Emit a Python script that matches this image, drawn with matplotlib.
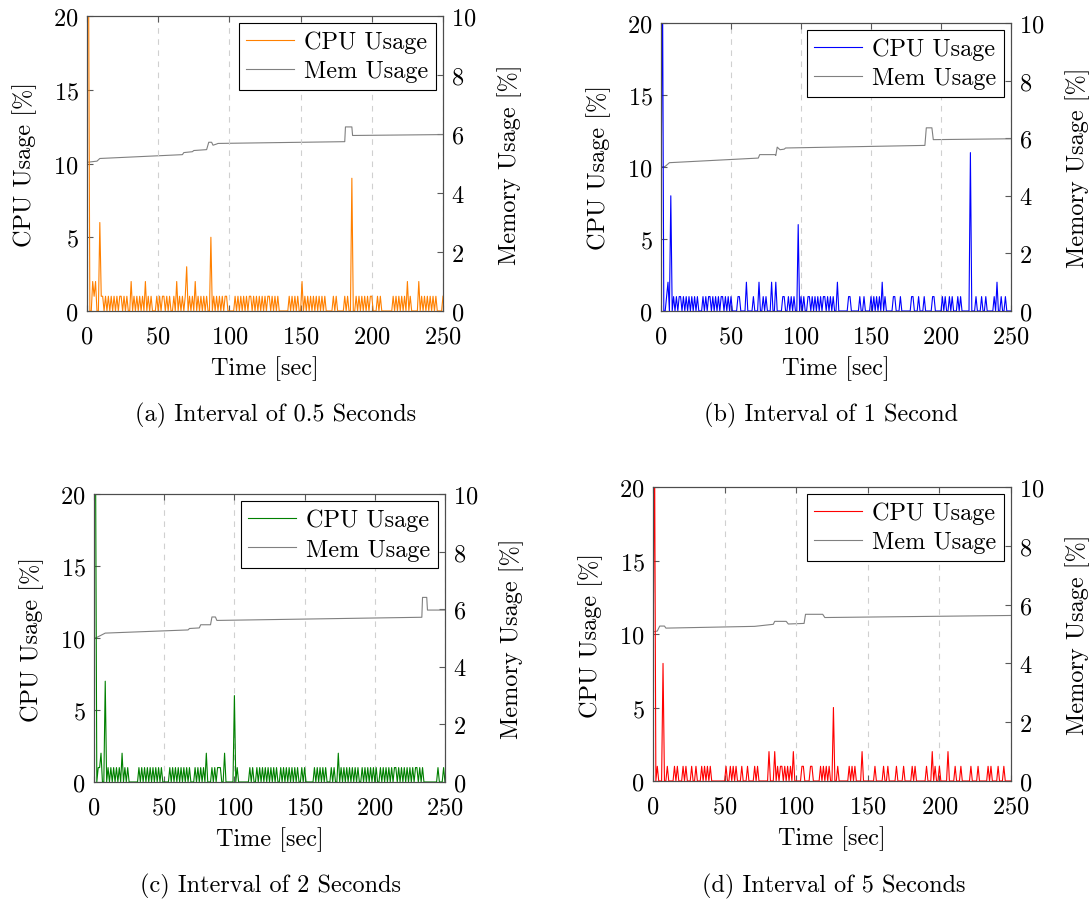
import numpy as np
import matplotlib.pyplot as plt

plt.rcParams['font.family'] = 'cmr10'
plt.rcParams['mathtext.fontset'] = 'cm'
plt.rcParams['axes.formatter.use_mathtext'] = True

# CPU usage [%], one sample per second (t = 0..250)
# written as base-36 digits: 0-9 as is, b = 11, p = 25 (off the top of the axis)
cpu_a_str = ("pp00212006 1101010101 0101101010 0201010101 0201010001 "
             "0101101010 0102010101 3010102010 1010100501 0101010110 "
             "0000101010 1010110101 0101010110 1010100000 0010101010 "
             "0201010101 0101010100 0001010000 0101009001 0101010101 "
             "1000101000 0000010101 0101020100 0002010101 0101010000 1")
cpu_b_str = ("6p00120801 0101101010 1010101000 1010110101 0101101010 "
             "1000011000 0200001000 2001010002 0020000110 0101010060 "
             "1010011010 1010101101 0101002000 0000110000 0010010000 "
             "1010101020 1000001100 0100000001 1000100010 0000110000 "
             "0101001010 0010100000 0b00010001 0010000010 2001001000 0")
cpu_c_str = ("pp01120070 1010101010 2010100000 0010101010 1010101010 "
             "0000101010 1010101010 0010101010 2000101011 1002000000 "
             "6010000000 0101001010 1010101010 1001010101 0101010010 "
             "1000000101 0101010001 0100201010 1010101010 0101010101 "
             "0100101010 1010110101 0101010101 1010100000 0000010001 0")
cpu_d_str = ("6p01000800 1000010100 0101000100 1000101010 1000000000 "
             "0100101010 0010001000 0101000000 0200020101 1010101020 "
             "0000110000 1100000101 0101005001 0000000101 0100002000 "
             "0000010000 0100100000 1000010000 0101000000 0100020100 "
             "1000002000 0100010000 0010000100 0000101000 0100010000 0")

cpu_a = [int(c, 36) for c in cpu_a_str.replace(' ', '')]
cpu_b = [int(c, 36) for c in cpu_b_str.replace(' ', '')]
cpu_c = [int(c, 36) for c in cpu_c_str.replace(' ', '')]
cpu_d = [int(c, 36) for c in cpu_d_str.replace(' ', '')]

# Memory usage [%], breakpoints of the step-like trace
mem_a_t = [0, 7, 9, 67, 68, 74, 75, 84, 85.5, 87.5, 88.5, 91, 92, 181, 181.5, 186, 186.5, 250]
mem_a_v = [5.04, 5.08, 5.17, 5.30, 5.37, 5.40, 5.44, 5.47, 5.72, 5.72, 5.62, 5.66, 5.68, 5.74, 6.24, 6.24, 5.95, 5.98]
mem_b_t = [0, 3, 6, 69.5, 70.5, 81.5, 82, 83, 85, 88, 89, 188.5, 189.5, 193.5, 194.5, 250]
mem_b_v = [5.0, 5.02, 5.15, 5.31, 5.43, 5.43, 5.40, 5.69, 5.60, 5.62, 5.66, 5.75, 6.36, 6.36, 5.95, 5.98]
mem_c_t = [0, 2, 8, 67, 68, 75, 76, 83, 84, 86.5, 87.5, 233.5, 234, 237, 237.5, 250]
mem_c_v = [4.99, 5.02, 5.17, 5.28, 5.33, 5.35, 5.46, 5.46, 5.73, 5.73, 5.61, 5.72, 6.41, 6.41, 5.97, 5.97]
mem_d_t = [0, 3, 4.7, 8, 9, 71, 84, 85, 93, 94.5, 105.5, 106.5, 118.5, 120, 250]
mem_d_v = [5.07, 5.10, 5.27, 5.27, 5.20, 5.26, 5.33, 5.43, 5.43, 5.34, 5.36, 5.67, 5.67, 5.56, 5.63]

captions = ['(a) Interval of 0.5 Seconds', '(b) Interval of 1 Second',
            '(c) Interval of 2 Seconds', '(d) Interval of 5 Seconds']
colors = ['#ff8000', '#0000ff', '#008000', '#ff0000']
cpus = [cpu_a, cpu_b, cpu_c, cpu_d]
mems = [(mem_a_t, mem_a_v), (mem_b_t, mem_b_v), (mem_c_t, mem_c_v), (mem_d_t, mem_d_v)]

W, H = 1092, 903
# axes boxes in pixels: left, right, top, bottom
boxes = [(87, 443, 17, 312), (661, 1011, 24, 312), (94, 445, 495, 783), (653, 1011, 488, 782)]
cap_pos = [(276, 415), (831, 415), (271, 886), (834, 886)]

fs = 17.5
fig = plt.figure(figsize=(W / 100, H / 100), dpi=100)

for i in range(4):
    l, r, t, b = boxes[i]
    ax = fig.add_axes([l / W, 1 - b / H, (r - l) / W, (b - t) / H])
    ax2 = ax.twinx()
    ax.set_zorder(ax2.get_zorder() + 1)
    ax.patch.set_visible(False)

    time = np.arange(len(cpus[i]))
    ln1, = ax.plot(time, cpus[i], color=colors[i], lw=0.8, label='CPU Usage')
    ln2, = ax2.plot(mems[i][0], mems[i][1], color='#808080', lw=0.8, label='Mem Usage')

    ax.set_xlim(0, 250)
    ax.set_ylim(0, 20)
    ax2.set_ylim(0, 10)
    ax.set_xticks([0, 50, 100, 150, 200, 250])
    ax.set_yticks([0, 5, 10, 15, 20])
    ax2.set_yticks([0, 2, 4, 6, 8, 10])
    ax.xaxis.grid(True, color='#d0d0d0', ls=(0, (5, 5)), lw=0.8)

    ax.tick_params(axis='x', direction='in', top=True, labelsize=fs, pad=10, length=4, color='0.35')
    ax.tick_params(axis='y', direction='in', labelsize=fs, pad=6, length=4, color='0.35')
    ax2.tick_params(axis='y', direction='in', labelsize=fs, pad=6, length=4, color='0.35')
    for a in (ax, ax2):
        for s in a.spines.values():
            s.set_color('0.3')
            s.set_linewidth(0.8)

    ax.set_xlabel('Time [sec]', fontsize=fs, labelpad=6)
    ax.set_ylabel('CPU Usage [%]', fontsize=fs, labelpad=12)
    ax2.set_ylabel('Memory Usage [%]', fontsize=fs, labelpad=15)

    leg = ax.legend(handles=[ln1, ln2], loc='upper right', fontsize=fs, frameon=True,
                    fancybox=False, framealpha=1, edgecolor='black', borderaxespad=0.3,
                    handlelength=2.0, handletextpad=0.4, borderpad=0.3, labelspacing=0.3)
    leg.get_frame().set_linewidth(0.8)

    cx, cy = cap_pos[i]
    fig.text(cx / W, 1 - cy / H, captions[i], fontsize=fs, ha='center', va='center')

fig.savefig('out.png', dpi=100)
